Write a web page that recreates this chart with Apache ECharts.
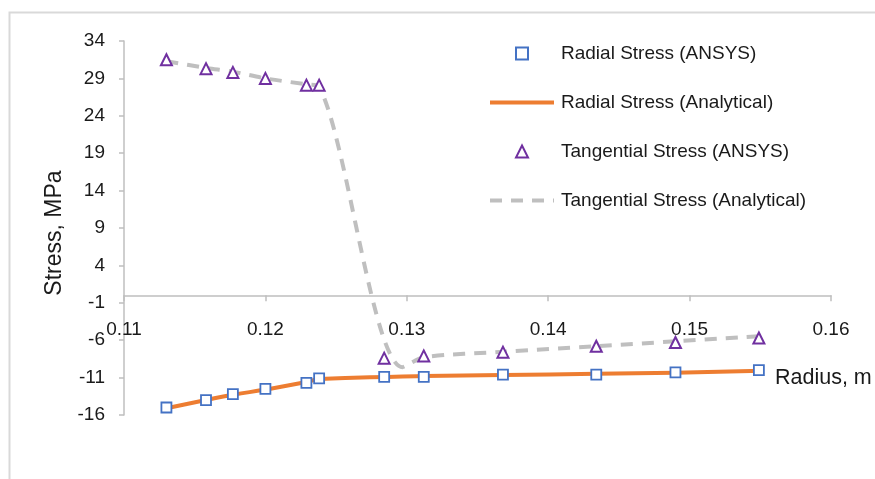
<!DOCTYPE html>
<html>
<head>
<meta charset="utf-8">
<script src="https://cdn.jsdelivr.net/npm/echarts@6/dist/echarts.min.js"></script>
<style>
  html, body { margin: 0; padding: 0; background: #fff; }
  #chart { width: 875px; height: 479px; }
</style>
</head>
<body>
<div id="chart"></div>
<script>
// FE sample radii (m)
const radius = [0.1130, 0.1158, 0.1177, 0.1200, 0.1229, 0.1238, 0.1284, 0.1312, 0.1368, 0.1434, 0.1490, 0.1549];
// Radii at which the closed-form solution is evaluated (m)
const analyticalRadius = [0.1130, 0.1158, 0.1177, 0.1200, 0.1229, 0.1238, 0.1297, 0.1312, 0.1368, 0.1434, 0.1490, 0.1551];

// Stress values (MPa)
const radialAnsys = [-15.0, -14.0, -13.2, -12.5, -11.7, -11.1, -10.9, -10.9, -10.6, -10.6, -10.3, -10.0];
const radialAnalytical = [-15.1, -14.0, -13.3, -12.6, -11.6, -11.2, -10.85, -10.8, -10.65, -10.5, -10.35, -10.1];
const tangentialAnsys = [31.5, 30.3, 29.8, 29.0, 28.1, 28.1, -8.4, -8.1, -7.6, -6.8, -6.3, -5.7];
const tangentialAnalytical = [31.3, 30.4, 29.9, 29.0, 28.2, 27.9, -9.6, -8.3, -7.55, -6.8, -6.15, -5.45];

// Axis tick labels
const xTicks = [0.11, 0.12, 0.13, 0.14, 0.15, 0.16];
const yTicks = [-16, -11, -6, -1, 4, 9, 14, 19, 24, 29, 34];

const seriesNames = [
  'Radial Stress (ANSYS)',
  'Radial Stress (Analytical)',
  'Tangential Stress (ANSYS)',
  'Tangential Stress (Analytical)'
];

const FONT = '"Liberation Sans", Arial, sans-serif';
const TEXT = '#1a1a1a';
const AXIS = '#bfbfbf';
const ORANGE = '#ed7d31';
const GREY = '#bfbfbf';
const BLUE = '#4472c4';
const PURPLE = '#7030a0';
const DASH = [12, 9];

const GRID = { left: 124, right: 44, top: 41, bottom: 64 };
const plotHeight = 479 - GRID.top - GRID.bottom;
const yMin = yTicks[0];
const yMax = yTicks[yTicks.length - 1];
// horizontal axis sits on the zero stress line
const xAxisOffset = -((0 - yMin) / (yMax - yMin)) * plotHeight;

const pairs = (xs, ys) => xs.map((r, i) => [r, ys[i]]);

const chart = echarts.init(document.getElementById('chart'), null, { renderer: 'canvas' });

chart.setOption({
  backgroundColor: '#ffffff',
  animation: false,
  textStyle: { fontFamily: FONT, color: TEXT },
  graphic: [{
    type: 'rect',
    left: 7, top: 10,
    shape: { width: 900, height: 500 },
    style: { fill: 'none', stroke: '#d9d9d9', lineWidth: 2 },
    z: -10
  }],
  grid: { left: GRID.left, right: GRID.right, top: GRID.top, bottom: GRID.bottom, containLabel: false },
  legend: {
    orient: 'vertical',
    left: 483,
    top: 39,
    itemWidth: 64,
    itemHeight: 15,
    itemGap: 30,
    data: [
      { name: seriesNames[0], lineStyle: { opacity: 0 } },
      { name: seriesNames[1], itemStyle: { opacity: 0 }, lineStyle: { width: 4, color: ORANGE } },
      { name: seriesNames[2], lineStyle: { opacity: 0 } },
      { name: seriesNames[3], itemStyle: { opacity: 0 }, lineStyle: { width: 4, color: GREY, type: DASH } }
    ],
    textStyle: { fontFamily: FONT, fontSize: 19, lineHeight: 19, color: TEXT, padding: [0, 0, 0, 2] }
  },
  xAxis: {
    type: 'value',
    min: xTicks[0],
    max: xTicks[xTicks.length - 1],
    interval: 0.01,
    offset: xAxisOffset,
    splitLine: { show: false },
    axisLine: { onZero: false, lineStyle: { color: AXIS, width: 1.5 } },
    axisTick: { show: true, length: 6, lineStyle: { color: AXIS, width: 1.5 } },
    axisLabel: {
      margin: 25,
      fontSize: 19,
      color: TEXT,
      fontFamily: FONT,
      formatter: (v) => {
        const t = xTicks.find((x) => Math.abs(x - v) < 1e-6);
        return t === undefined ? '' : t.toFixed(2);
      }
    },
    name: 'Radius, m',
    nameLocation: 'end',
    nameGap: -56,
    nameTextStyle: {
      fontSize: 21.5, color: TEXT, fontFamily: FONT,
      align: 'left', verticalAlign: 'top', padding: [72, 0, 0, 0]
    }
  },
  yAxis: {
    type: 'value',
    min: yMin,
    max: yMax,
    interval: 5,
    splitLine: { show: false },
    axisLine: { show: true, onZero: false, lineStyle: { color: AXIS, width: 1.5 } },
    axisTick: { show: true, length: 5, customValues: yTicks, lineStyle: { color: AXIS, width: 1.5 } },
    axisLabel: {
      margin: 19,
      fontSize: 19,
      color: TEXT,
      fontFamily: FONT,
      customValues: yTicks
    },
    name: 'Stress, MPa',
    nameLocation: 'middle',
    nameRotate: 90,
    nameGap: 56,
    nameTextStyle: { fontSize: 23, color: TEXT, fontFamily: FONT, padding: [0, 10, 0, 0] }
  },
  series: [
    {
      name: seriesNames[0],
      type: 'line',
      data: pairs(radius, radialAnsys),
      symbol: 'rect',
      symbolSize: 10,
      showSymbol: true,
      lineStyle: { width: 0, opacity: 0 },
      itemStyle: { color: '#ffffff', borderColor: BLUE, borderWidth: 1.8 },
      z: 4
    },
    {
      name: seriesNames[1],
      type: 'line',
      data: pairs(analyticalRadius, radialAnalytical),
      symbol: 'none',
      smooth: 0.5,
      lineStyle: { color: ORANGE, width: 4 },
      itemStyle: { color: ORANGE },
      z: 2
    },
    {
      name: seriesNames[2],
      type: 'line',
      data: pairs(radius, tangentialAnsys),
      symbol: 'triangle',
      symbolSize: 11,
      showSymbol: true,
      lineStyle: { width: 0, opacity: 0 },
      itemStyle: { color: '#ffffff', borderColor: PURPLE, borderWidth: 2 },
      z: 4
    },
    {
      name: seriesNames[3],
      type: 'line',
      data: pairs(analyticalRadius, tangentialAnalytical),
      symbol: 'none',
      smooth: 0.3,
      lineStyle: { color: GREY, width: 4, type: DASH },
      itemStyle: { color: GREY },
      z: 2
    }
  ]
});
</script>
</body>
</html>
